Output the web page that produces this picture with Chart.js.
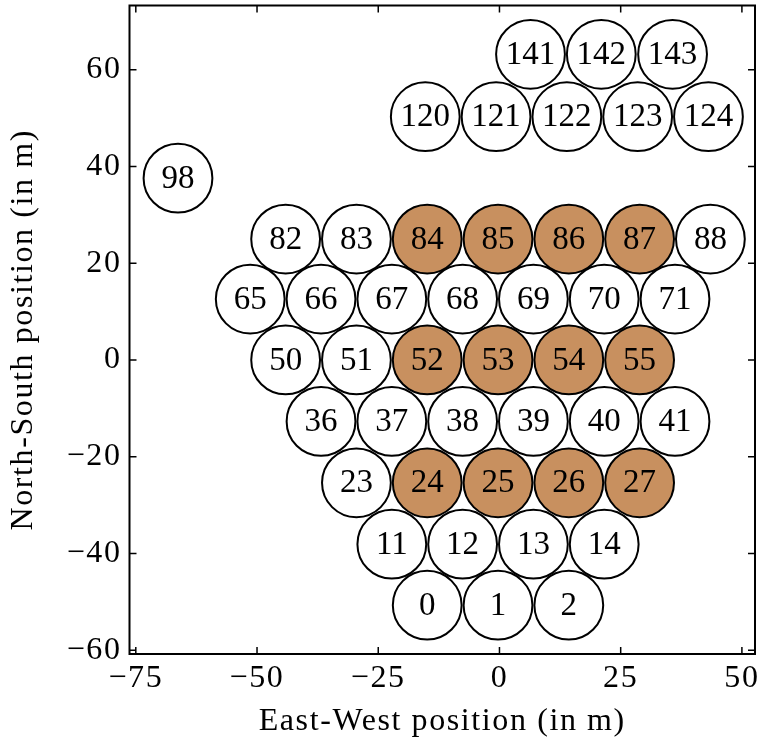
<!DOCTYPE html>
<html>
<head>
<meta charset="utf-8">
<script src="https://cdn.jsdelivr.net/npm/chart.js@4/dist/chart.umd.min.js"></script>
<style>
    html, body { margin: 0; padding: 0; background: #fff; }
    #wrap { width: 759px; height: 742px; }
</style>
</head>
<body>
<div id="wrap"><canvas id="layoutChart" width="759" height="742"></canvas></div>
<script>
// Antenna layout - east/north offsets in metres
const antennaIds = [
    0, 1, 2,
    11, 12, 13, 14,
    23, 24, 25, 26, 27,
    36, 37, 38, 39, 40, 41,
    50, 51, 52, 53, 54, 55,
    65, 66, 67, 68, 69, 70, 71,
    82, 83, 84, 85, 86, 87, 88,
    98,
    120, 121, 122, 123, 124,
    141, 142, 143
];
const eastPos = [
    -14.9, -0.3, 14.3,
    -22.2, -7.6, 7.0, 21.6,
    -29.5, -14.9, -0.3, 14.3, 28.9,
    -36.8, -22.2, -7.6, 7.0, 21.6, 36.2,
    -44.1, -29.5, -14.9, -0.3, 14.3, 28.9,
    -51.4, -36.8, -22.2, -7.6, 7.0, 21.6, 36.2,
    -44.1, -29.5, -14.9, -0.3, 14.3, 28.9, 43.5,
    -66.3,
    -15.3, -0.7, 13.9, 28.5, 43.1,
    6.4, 21.0, 35.7
];
const northPos = [
    -50.7, -50.7, -50.7,
    -38.1, -38.1, -38.1, -38.1,
    -25.4, -25.4, -25.4, -25.4, -25.4,
    -12.7, -12.7, -12.7, -12.7, -12.7, -12.7,
    0.0, 0.0, 0.0, 0.0, 0.0, 0.0,
    12.6, 12.6, 12.6, 12.6, 12.6, 12.6, 12.6,
    25.0, 25.0, 25.0, 25.0, 25.0, 25.0, 25.0,
    37.6,
    50.3, 50.3, 50.3, 50.3, 50.3,
    63.2, 63.2, 63.2
];
// antennas shaded as active
const activeIds = [24, 25, 26, 27, 52, 53, 54, 55, 84, 85, 86, 87];

const xTickValues = [-75, -50, -25, 0, 25, 50];
const yTickValues = [-60, -40, -20, 0, 20, 40, 60];
const dishRadius = 7.3;

const FONT = "'Liberation Serif', 'Times New Roman', serif";
const ACTIVE_COLOR = '#c8905f';

const fmtTick = v => v < 0 ? '\u2212' + Math.abs(v) : String(v);

// dish radius converted to pixels through the x scale
function dishPixels(chart) {
    const s = chart.scales.x;
    return Math.abs(s.getPixelForValue(dishRadius) - s.getPixelForValue(0)) - 1;
}

// frame + inward ticks on all four sides
const framePlugin = {
    id: 'frame',
    beforeDraw(chart) {
        chart.ctx.letterSpacing = '1.6px';
    },
    beforeDatasetsDraw(chart) {
        chart.ctx.letterSpacing = '0px';
    },
    afterDraw(chart) {
        const { ctx, chartArea: a, scales } = chart;
        const tl = 7;
        ctx.save();
        ctx.strokeStyle = '#000';
        ctx.lineWidth = 1.5;
        ctx.beginPath();
        xTickValues.forEach(v => {
            const px = scales.x.getPixelForValue(v);
            ctx.moveTo(px, a.bottom); ctx.lineTo(px, a.bottom - tl);
            ctx.moveTo(px, a.top); ctx.lineTo(px, a.top + tl);
        });
        yTickValues.forEach(v => {
            const py = scales.y.getPixelForValue(v);
            ctx.moveTo(a.left, py); ctx.lineTo(a.left + tl, py);
            ctx.moveTo(a.right, py); ctx.lineTo(a.right - tl, py);
        });
        ctx.stroke();
        ctx.lineWidth = 2;
        ctx.strokeRect(a.left, a.top, a.right - a.left, a.bottom - a.top);
        ctx.restore();
    }
};

// antenna number written in the middle of each dish
const labelPlugin = {
    id: 'dishLabels',
    afterDatasetsDraw(chart) {
        const ctx = chart.ctx;
        const meta = chart.getDatasetMeta(0);
        ctx.save();
        ctx.letterSpacing = '0px';
        ctx.font = '33px ' + FONT;
        ctx.fillStyle = '#000';
        ctx.textAlign = 'center';
        ctx.textBaseline = 'middle';
        meta.data.forEach((pt, i) => {
            ctx.fillText(String(antennaIds[i]), pt.x, pt.y + 1);
        });
        ctx.restore();
    }
};

new Chart(document.getElementById('layoutChart'), {
    type: 'scatter',
    data: {
        datasets: [{
            data: antennaIds.map((id, i) => ({ x: eastPos[i], y: northPos[i] })),
            backgroundColor: c => activeIds.includes(antennaIds[c.dataIndex]) ? ACTIVE_COLOR : '#ffffff',
            borderColor: '#000',
            borderWidth: 2,
            pointRadius: c => dishPixels(c.chart),
            pointHoverRadius: c => dishPixels(c.chart),
            clip: false
        }]
    },
    options: {
        responsive: false,
        animation: false,
        events: [],
        layout: { padding: { top: 5.5, right: 4, left: 0, bottom: 0 } },
        plugins: { legend: { display: false }, tooltip: { enabled: false } },
        scales: {
            x: {
                type: 'linear',
                min: -76.3,
                max: 52.7,
                afterBuildTicks: s => { s.ticks = xTickValues.map(v => ({ value: v })); },
                afterFit: s => { s.height = 88; s.paddingLeft = 0; s.paddingRight = 0; },
                grid: { display: false, drawTicks: false },
                border: { display: false },
                ticks: {
                    color: '#000',
                    padding: 5,
                    maxRotation: 0,
                    font: { family: FONT, size: 32 },
                    callback: fmtTick
                },
                title: {
                    display: true,
                    text: 'East-West position (in m)',
                    color: '#000',
                    font: { family: FONT, size: 32 },
                    padding: { top: 0, bottom: 1 }
                }
            },
            y: {
                type: 'linear',
                min: -60.8,
                max: 73.3,
                afterBuildTicks: s => { s.ticks = yTickValues.map(v => ({ value: v })); },
                afterFit: s => { s.width = 129.5; s.paddingTop = 0; s.paddingBottom = 0; },
                grid: { display: false, drawTicks: false },
                border: { display: false },
                ticks: {
                    color: '#000',
                    padding: 8,
                    font: { family: FONT, size: 32 },
                    callback: fmtTick
                },
                title: {
                    display: true,
                    text: 'North-South position (in m)',
                    color: '#000',
                    font: { family: FONT, size: 32 },
                    padding: { top: 4, bottom: 0 }
                }
            }
        }
    },
    plugins: [framePlugin, labelPlugin]
});
</script>
</body>
</html>
